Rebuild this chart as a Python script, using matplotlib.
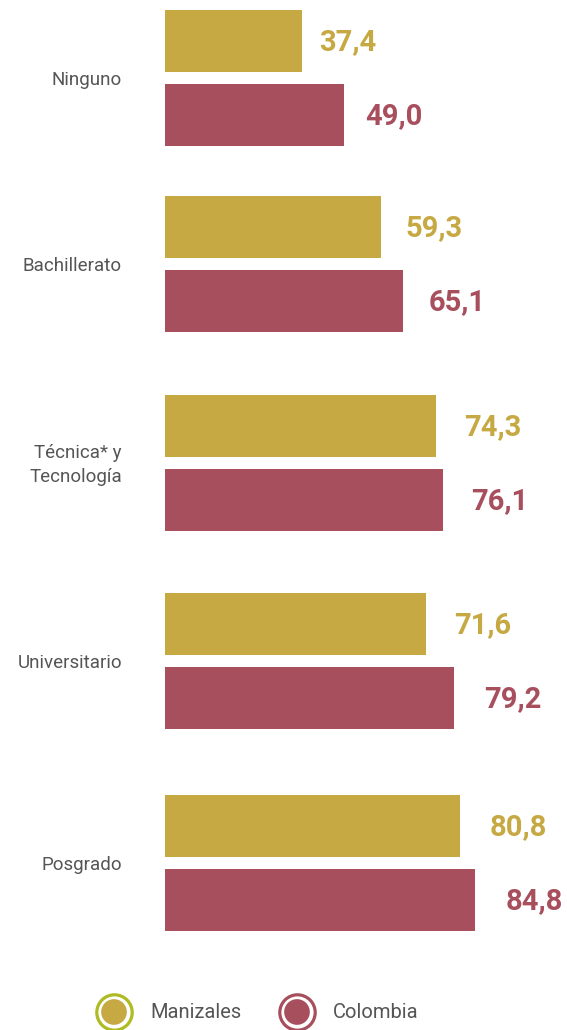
import matplotlib
matplotlib.use("Agg")
import matplotlib.pyplot as plt
import numpy as np

# Education level categories and employment rates (%)
categories = ["Ninguno", "Bachillerato", "Técnica* y\nTecnología", "Universitario", "Posgrado"]
manizales = [37.4, 59.3, 74.3, 71.6, 80.8]
colombia = [49.0, 65.1, 76.1, 79.2, 84.8]
series_names = ["Manizales", "Colombia"]

GOLD = "#C6A943"
RED = "#A84F5D"
RING_GOLD = "#AEBB22"
TEXT = "#555555"
FONT = ["Roboto", "DejaVu Sans"]

W, H = 567, 1030
fig = plt.figure(figsize=(W / 100, H / 100), dpi=100)

# Bar axes: left edge at the bar origin, fixed pixel scale for values,
# vertical axis measured in pixels from the top
x0_px = 165
px_per_unit = 3.65
ax = fig.add_axes([x0_px / W, 0, (W - x0_px) / W, 1])
ax.set_xlim(0, (W - x0_px) / px_per_unit)
ax.set_ylim(H, 0)

# Vertical layout of the groups (pixel spacing between group centres)
first_center_px = 78
group_gaps_px = [186, 199, 198, 202]
centers = first_center_px + np.concatenate([[0], np.cumsum(group_gaps_px)])
bar_h = 62
off = 37

ax.barh(centers - off, manizales, height=bar_h, color=GOLD)
ax.barh(centers + off, colombia, height=bar_h, color=RED)

def fmt(v):
    return f"{v:.1f}".replace(".", ",")

for yc, v in zip(centers, manizales):
    ax.text(v * 1.08 + 1.8, yc - off + 1, fmt(v), color=GOLD,
            fontsize=21, fontweight="bold", family=FONT, ha="left", va="center")
for yc, v in zip(centers, colombia):
    ax.text(v * 1.08 + 1.8, yc + off + 1, fmt(v), color=RED,
            fontsize=21, fontweight="bold", family=FONT, ha="left", va="center")

for yc, c in zip(centers, categories):
    ax.text(-43 / px_per_unit, yc + 2, c, color=TEXT, fontsize=13.5, family=FONT,
            ha="right", va="center", linespacing=1.4, clip_on=False)

ax.axis("off")

# Legend drawn in figure pixel space
lg = fig.add_axes([0, 0, 1, 1])
lg.set_xlim(0, W)
lg.set_ylim(H, 0)
lg.axis("off")
lg.patch.set_alpha(0)

legend_items = [(114, RING_GOLD, GOLD), (297, RED, RED)]
for (cx, ring, fill), name in zip(legend_items, series_names):
    lg.scatter([cx], [1012], s=(25.5) ** 2, facecolor="white", edgecolor=ring, linewidth=2.3, zorder=2)
    lg.scatter([cx], [1012], s=(18.5) ** 2, facecolor=fill, edgecolor="none", zorder=3)
    lg.text(cx + 36, 1013, name, color=TEXT, fontsize=14.5, family=FONT, ha="left", va="center")

fig.savefig("out.png", dpi=100, facecolor="white")
